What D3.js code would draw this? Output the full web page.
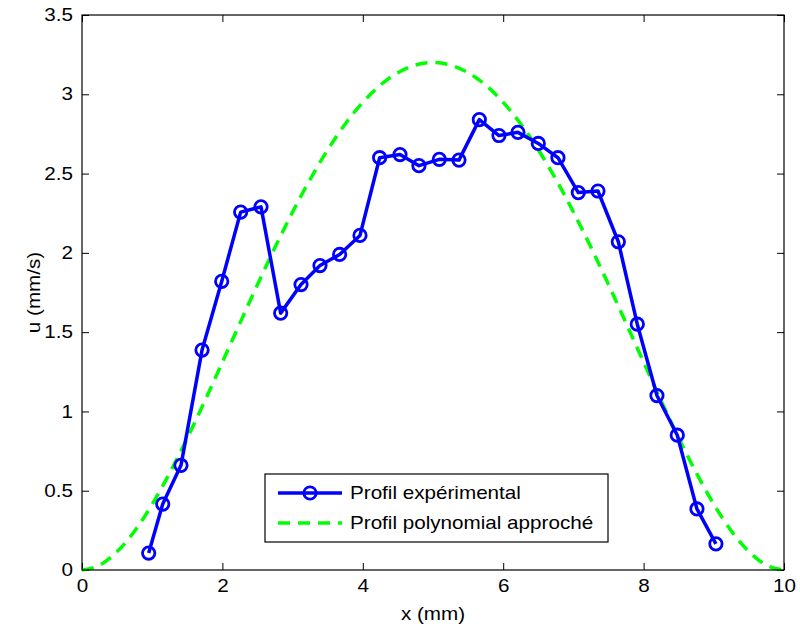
<!DOCTYPE html>
<html><head><meta charset="utf-8">
<script src="https://cdn.jsdelivr.net/npm/d3@7"></script>
<style>body{margin:0;background:#fff}svg{display:block}text{font-family:"Liberation Sans",Arial,sans-serif}</style>
</head><body>
<svg id="chart" width="800" height="630"></svg>
<script>
const expX = [0.95,1.15,1.41,1.71,1.99,2.26,2.55,2.83,3.12,3.39,3.67,3.96,4.24,4.53,4.80,5.09,5.37,5.66,5.94,6.21,6.50,6.78,7.07,7.35,7.64,7.91,8.19,8.48,8.76,9.03];
const expU = [0.107,0.416,0.66,1.387,1.82,2.257,2.29,1.62,1.80,1.92,1.99,2.11,2.60,2.62,2.55,2.59,2.585,2.84,2.74,2.76,2.69,2.60,2.38,2.39,2.07,1.55,1.10,0.85,0.385,0.165];
const polyX = [0,0.25,0.5,0.75,1,1.25,1.5,1.75,2,2.25,2.5,2.75,3,3.25,3.5,3.75,4,4.25,4.5,4.75,5,5.25,5.5,5.75,6,6.25,6.5,6.75,7,7.25,7.5,7.75,8,8.25,8.5,8.75,9,9.25,9.5,9.75,10];
const polyU = [0,0.030,0.116,0.246,0.415,0.613,0.832,1.067,1.311,1.557,1.800,2.035,2.258,2.464,2.650,2.813,2.949,3.058,3.136,3.184,3.2,3.184,3.136,3.058,2.949,2.813,2.650,2.464,2.258,2.035,1.800,1.557,1.311,1.067,0.832,0.613,0.415,0.246,0.116,0.030,0];
const xTicks = [0,2,4,6,8,10];
const yTicks = [0,0.5,1,1.5,2,2.5,3,3.5];
const legendLabels = ["Profil expérimental","Profil polynomial approché"];

const svg = d3.select("#chart");
const L=82,R=784,T=15,B=570;
const x = d3.scaleLinear().domain([0,10]).range([L,R]);
const y = d3.scaleLinear().domain([0,3.5]).range([B,T]);
const fs = 17.5, K = 1.18;
// horizontal stretch around a text's own anchor x
function stretch(sel){
  sel.each(function(){
    const t=d3.select(this); const ax=+(t.attr("x")||0);
    t.attr("transform",(t.attr("transform")||"")+` translate(${ax},0) scale(${K},1) translate(${-ax},0)`);
  });
}

const g = svg.append("g");
g.append("g").attr("transform",`translate(0,${B})`).call(d3.axisBottom(x).tickValues(xTicks).tickSize(-7).tickPadding(10).tickFormat(d3.format("d")))
 .call(a=>{a.select(".domain").remove();a.selectAll("text").attr("font-size",fs).attr("fill","#000").attr("font-family","Liberation Sans, Arial, sans-serif").call(stretch);a.selectAll("line").attr("stroke","#000");});
g.append("g").attr("transform",`translate(0,${T})`).call(d3.axisTop(x).tickValues(xTicks).tickSize(-7).tickFormat(""))
 .call(a=>{a.select(".domain").remove();a.selectAll("line").attr("stroke","#000");});
g.append("g").attr("transform",`translate(${L},0)`).call(d3.axisLeft(y).tickValues(yTicks).tickSize(-7).tickPadding(9).tickFormat(d=>String(d)))
 .call(a=>{a.select(".domain").remove();a.selectAll("text").attr("font-size",fs).attr("fill","#000").attr("font-family","Liberation Sans, Arial, sans-serif").call(stretch);a.selectAll("line").attr("stroke","#000");});
g.append("g").attr("transform",`translate(${R},0)`).call(d3.axisRight(y).tickValues(yTicks).tickSize(-7).tickFormat(""))
 .call(a=>{a.select(".domain").remove();a.selectAll("line").attr("stroke","#000");});

// green dashed polynomial
const polyData = polyX.map((v,i)=>[v,polyU[i]]);
svg.append("path").datum(polyData)
 .attr("d",d3.line().x(d=>x(d[0])).y(d=>y(d[1])).curve(d3.curveMonotoneX))
 .attr("fill","none").attr("stroke","#00ff00").attr("stroke-width",3.5).attr("stroke-dasharray","12,8");

// blue experimental
const expData = expX.map((v,i)=>[v,expU[i]]);
svg.append("path").datum(expData)
 .attr("d",d3.line().x(d=>x(d[0])).y(d=>y(d[1])))
 .attr("fill","none").attr("stroke","#0000ff").attr("stroke-width",3.5).attr("stroke-linejoin","round");
svg.selectAll("circle.m").data(expData).enter().append("circle").attr("class","m")
 .attr("cx",d=>x(d[0])).attr("cy",d=>y(d[1])).attr("r",6.2)
 .attr("fill","none").attr("stroke","#0000ff").attr("stroke-width",2.8);

// box
svg.append("rect").attr("x",L).attr("y",T).attr("width",R-L).attr("height",B-T)
 .attr("fill","none").attr("stroke","#000").attr("stroke-width",1.2);

// axis labels
svg.append("text").attr("x",(L+R)/2).attr("y",620).attr("text-anchor","middle").attr("font-size",fs).text("x (mm)").call(stretch);
svg.append("text").attr("transform",`translate(40,${(T+B)/2}) rotate(-90) scale(${K},1)`).attr("text-anchor","middle").attr("font-size",fs).text("u (mm/s)");

// legend
const lg = svg.append("g");
lg.append("rect").attr("x",265).attr("y",474).attr("width",343).attr("height",68).attr("fill","#fff").attr("stroke","#000").attr("stroke-width",1.2);
lg.append("line").attr("x1",278).attr("x2",342).attr("y1",493).attr("y2",493).attr("stroke","#0000ff").attr("stroke-width",3.5);
lg.append("circle").attr("cx",310).attr("cy",493).attr("r",6.2).attr("fill","none").attr("stroke","#0000ff").attr("stroke-width",2.8);
lg.append("line").attr("x1",278).attr("x2",342).attr("y1",523).attr("y2",523).attr("stroke","#00ff00").attr("stroke-width",3.5).attr("stroke-dasharray","12,8");
lg.selectAll("text.l").data(legendLabels).enter().append("text").attr("class","l")
 .attr("x",350).attr("y",(d,i)=>493+i*30).attr("dy","0.35em").attr("font-size",fs).text(d=>d).call(stretch);
</script>
</body></html>
